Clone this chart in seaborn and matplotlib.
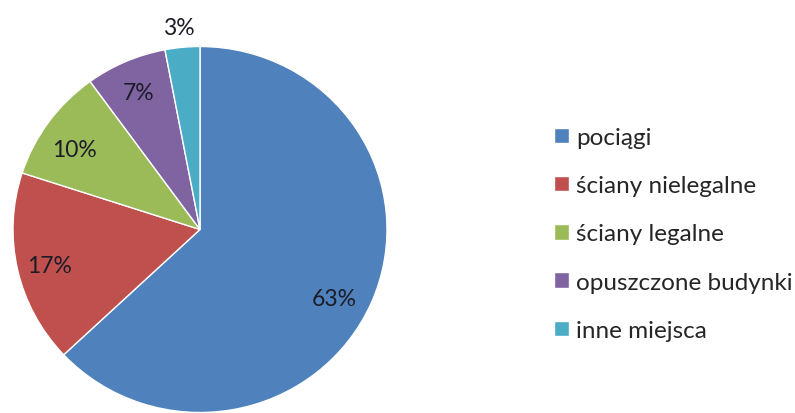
import numpy as np
import matplotlib
matplotlib.use("Agg")
import matplotlib.pyplot as plt
import seaborn as sns

# Where graffiti is painted (share of works, %)
categories = ["pociągi", "ściany nielegalne", "ściany legalne", "opuszczone budynki", "inne miejsca"]
shares = [63, 17, 10, 7, 3]
label_texts = ["63%", "17%", "10%", "7%", "3%"]
# radial placement of each percentage label (fraction of the radius)
label_radius = [0.81, 0.83, 0.80, 0.82, 1.11]
label_angle_shift = [-4.5, 1.0, 3.0, 0.4, 0.4]

sns.set_theme(style="white")
plt.rcParams["font.family"] = ["Lato", "DejaVu Sans"]

colors = sns.color_palette(["#4F81BD", "#C0504D", "#9BBB59", "#8064A2", "#4BACC6"])

W, H = 795, 414
fig = plt.figure(figsize=(W / 100, H / 100), dpi=100)
fig.patch.set_facecolor("white")

# pie centre and radii in pixels
cx, cy, rx, ry = 200, 230.5, 187, 183
ax = fig.add_axes([(cx - rx) / W, (H - cy - ry) / H, 2 * rx / W, 2 * ry / H])

wedges, _ = ax.pie(
    shares,
    colors=colors,
    startangle=90,
    counterclock=False,
    radius=1.0,
    wedgeprops=dict(edgecolor="white", linewidth=1.0),
)
ax.set_aspect("auto")
ax.set_xlim(-1, 1)
ax.set_ylim(-1, 1)
ax.axis("off")

for w, txt, rr, da in zip(wedges, label_texts, label_radius, label_angle_shift):
    mid = np.deg2rad((w.theta1 + w.theta2) / 2 + da)
    ax.text(rr * np.cos(mid), rr * np.sin(mid), txt, ha="center", va="center",
            fontsize=16.5, color="#1c1c28", clip_on=False)

leg = fig.legend(
    wedges, categories,
    loc="center left",
    bbox_to_anchor=(554 / W, 1 - 235 / H),
    frameon=False,
    fontsize=17.5,
    handlelength=0.6,
    handleheight=0.6,
    handletextpad=0.3,
    labelspacing=1.12,
    borderpad=0,
    borderaxespad=0,
)
for t in leg.get_texts():
    t.set_color("#262626")

fig.savefig("out.png", dpi=100, facecolor="white")
